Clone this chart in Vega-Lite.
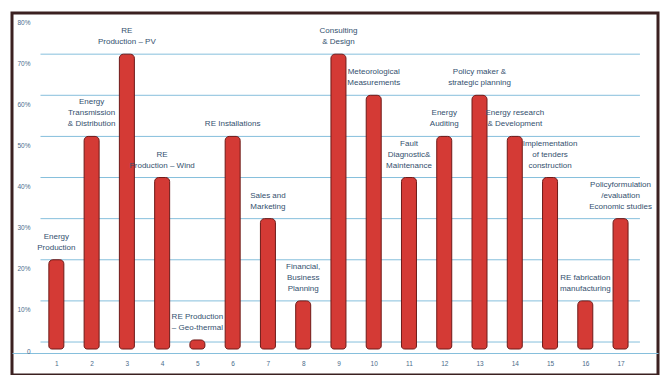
{
  "$schema": "https://vega.github.io/schema/vega-lite/v6.json",
  "width": 646,
  "height": 362,
  "autosize": "none",
  "padding": {"left": 12, "top": 13, "right": 5, "bottom": 0},
  "background": "white",
  "config": {
    "view": {"stroke": "#3b2020", "strokeWidth": 3},
    "font": "Liberation Sans",
    "axisX": {"labelExpr": "datum.value >= 1 && datum.value <= 17 ? datum.label : ''", "offset": -22, "domain": true, "domainColor": "#86bfdc", "domainWidth": 1, "ticks": false, "grid": false, "labelPadding": 7, "labelFontSize": 6.5, "labelColor": "#4a6b8a", "title": null},
    "axisY": {"labelExpr": "datum.value == 0 ? '0' : format(datum.value, '.0%')", "offset": -21, "domain": false, "ticks": false, "grid": false, "labelPadding": 3, "labelOffset": 9, "labelFontSize": 6.5, "labelColor": "#4a6b8a", "title": null}
  },
  "datasets": {
    "bars": [
      {"n": 1, "pct": 0.20, "label": "Energy\nProduction"},
      {"n": 2, "pct": 0.50, "label": "Energy\nTransmission\n& Distribution"},
      {"n": 3, "pct": 0.70, "label": "RE\nProduction – PV"},
      {"n": 4, "pct": 0.40, "label": "RE\nProduction – Wind"},
      {"n": 5, "pct": 0.005, "label": "RE Production\n– Geo-thermal"},
      {"n": 6, "pct": 0.50, "label": "RE Installations"},
      {"n": 7, "pct": 0.30, "label": "Sales and\nMarketing"},
      {"n": 8, "pct": 0.10, "label": "Financial,\nBusiness\nPlanning"},
      {"n": 9, "pct": 0.70, "label": "Consulting\n& Design"},
      {"n": 10, "pct": 0.60, "label": "Meteorological\nMeasurements"},
      {"n": 11, "pct": 0.40, "label": "Fault\nDiagnostic&\nMaintenance"},
      {"n": 12, "pct": 0.50, "label": "Energy\nAuditing"},
      {"n": 13, "pct": 0.60, "label": "Policy maker &\nstrategic planning"},
      {"n": 14, "pct": 0.50, "label": "Energy research\n& Development"},
      {"n": 15, "pct": 0.40, "label": "Implementation\nof tenders\nconstruction"},
      {"n": 16, "pct": 0.10, "label": "RE fabrication\nmanufacturing"},
      {"n": 17, "pct": 0.30, "label": "Policyformulation\n/evaluation\nEconomic studies"}
    ],
    "grid": [
      {"v": 0}, {"v": 0.1}, {"v": 0.2}, {"v": 0.3}, {"v": 0.4},
      {"v": 0.5}, {"v": 0.6}, {"v": 0.7}
    ]
  },
  "layer": [
    {
      "data": {"name": "grid"},
      "mark": {"type": "rule", "color": "#86bfdc", "strokeWidth": 1},
      "encoding": {
        "y": {"field": "v", "type": "quantitative", "scale": {"domain": [-0.0802, 0.8001], "nice": false, "zero": false}},
        "x": {"datum": 0.55, "type": "quantitative", "scale": {"domain": [-0.116, 17.92], "nice": false, "zero": false}},
        "x2": {"datum": 17.55}
      }
    },
    {
      "data": {"name": "bars"},
      "mark": {"type": "bar", "size": 15, "fill": "#d43a35", "stroke": "#6e1a18", "strokeWidth": 1, "cornerRadiusTopLeft": 4, "cornerRadiusTopRight": 4, "cornerRadiusBottomLeft": 3, "cornerRadiusBottomRight": 3},
      "encoding": {
        "x": {"field": "n", "type": "quantitative", "scale": {"domain": [-0.116, 17.92], "nice": false, "zero": false}},
        "y": {"field": "pct", "type": "quantitative", "scale": {"domain": [-0.0802, 0.8001], "nice": false, "zero": false},
              "axis": {"values": [0, 0.1, 0.2, 0.3, 0.4, 0.5, 0.6, 0.7, 0.8]}},
        "y2": {"datum": -0.017}
      }
    },
    {
      "data": {"name": "bars"},
      "transform": [{"filter": "length(split(datum.label, '\\n')) == 1"}],
      "mark": {"type": "text", "align": "center", "baseline": "bottom", "dy": -8, "fontSize": 8, "color": "#34506e", "lineBreak": "\n", "lineHeight": 11},
      "encoding": {
        "x": {"field": "n", "type": "quantitative", "scale": {"domain": [-0.116, 17.92], "nice": false, "zero": false}},
        "y": {"field": "pct", "type": "quantitative", "scale": {"domain": [-0.0802, 0.8001], "nice": false, "zero": false}},
        "text": {"field": "label"}
      }
    },
    {
      "data": {"name": "bars"},
      "transform": [{"filter": "length(split(datum.label, '\\n')) == 2"}],
      "mark": {"type": "text", "align": "center", "baseline": "bottom", "dy": -19, "fontSize": 8, "color": "#34506e", "lineBreak": "\n", "lineHeight": 11},
      "encoding": {
        "x": {"field": "n", "type": "quantitative", "scale": {"domain": [-0.116, 17.92], "nice": false, "zero": false}},
        "y": {"field": "pct", "type": "quantitative", "scale": {"domain": [-0.0802, 0.8001], "nice": false, "zero": false}},
        "text": {"field": "label"}
      }
    },
    {
      "data": {"name": "bars"},
      "transform": [{"filter": "length(split(datum.label, '\\n')) == 3"}],
      "mark": {"type": "text", "align": "center", "baseline": "bottom", "dy": -30, "fontSize": 8, "color": "#34506e", "lineBreak": "\n", "lineHeight": 11},
      "encoding": {
        "x": {"field": "n", "type": "quantitative", "scale": {"domain": [-0.116, 17.92], "nice": false, "zero": false}},
        "y": {"field": "pct", "type": "quantitative", "scale": {"domain": [-0.0802, 0.8001], "nice": false, "zero": false}},
        "text": {"field": "label"}
      }
    }
  ]
}
